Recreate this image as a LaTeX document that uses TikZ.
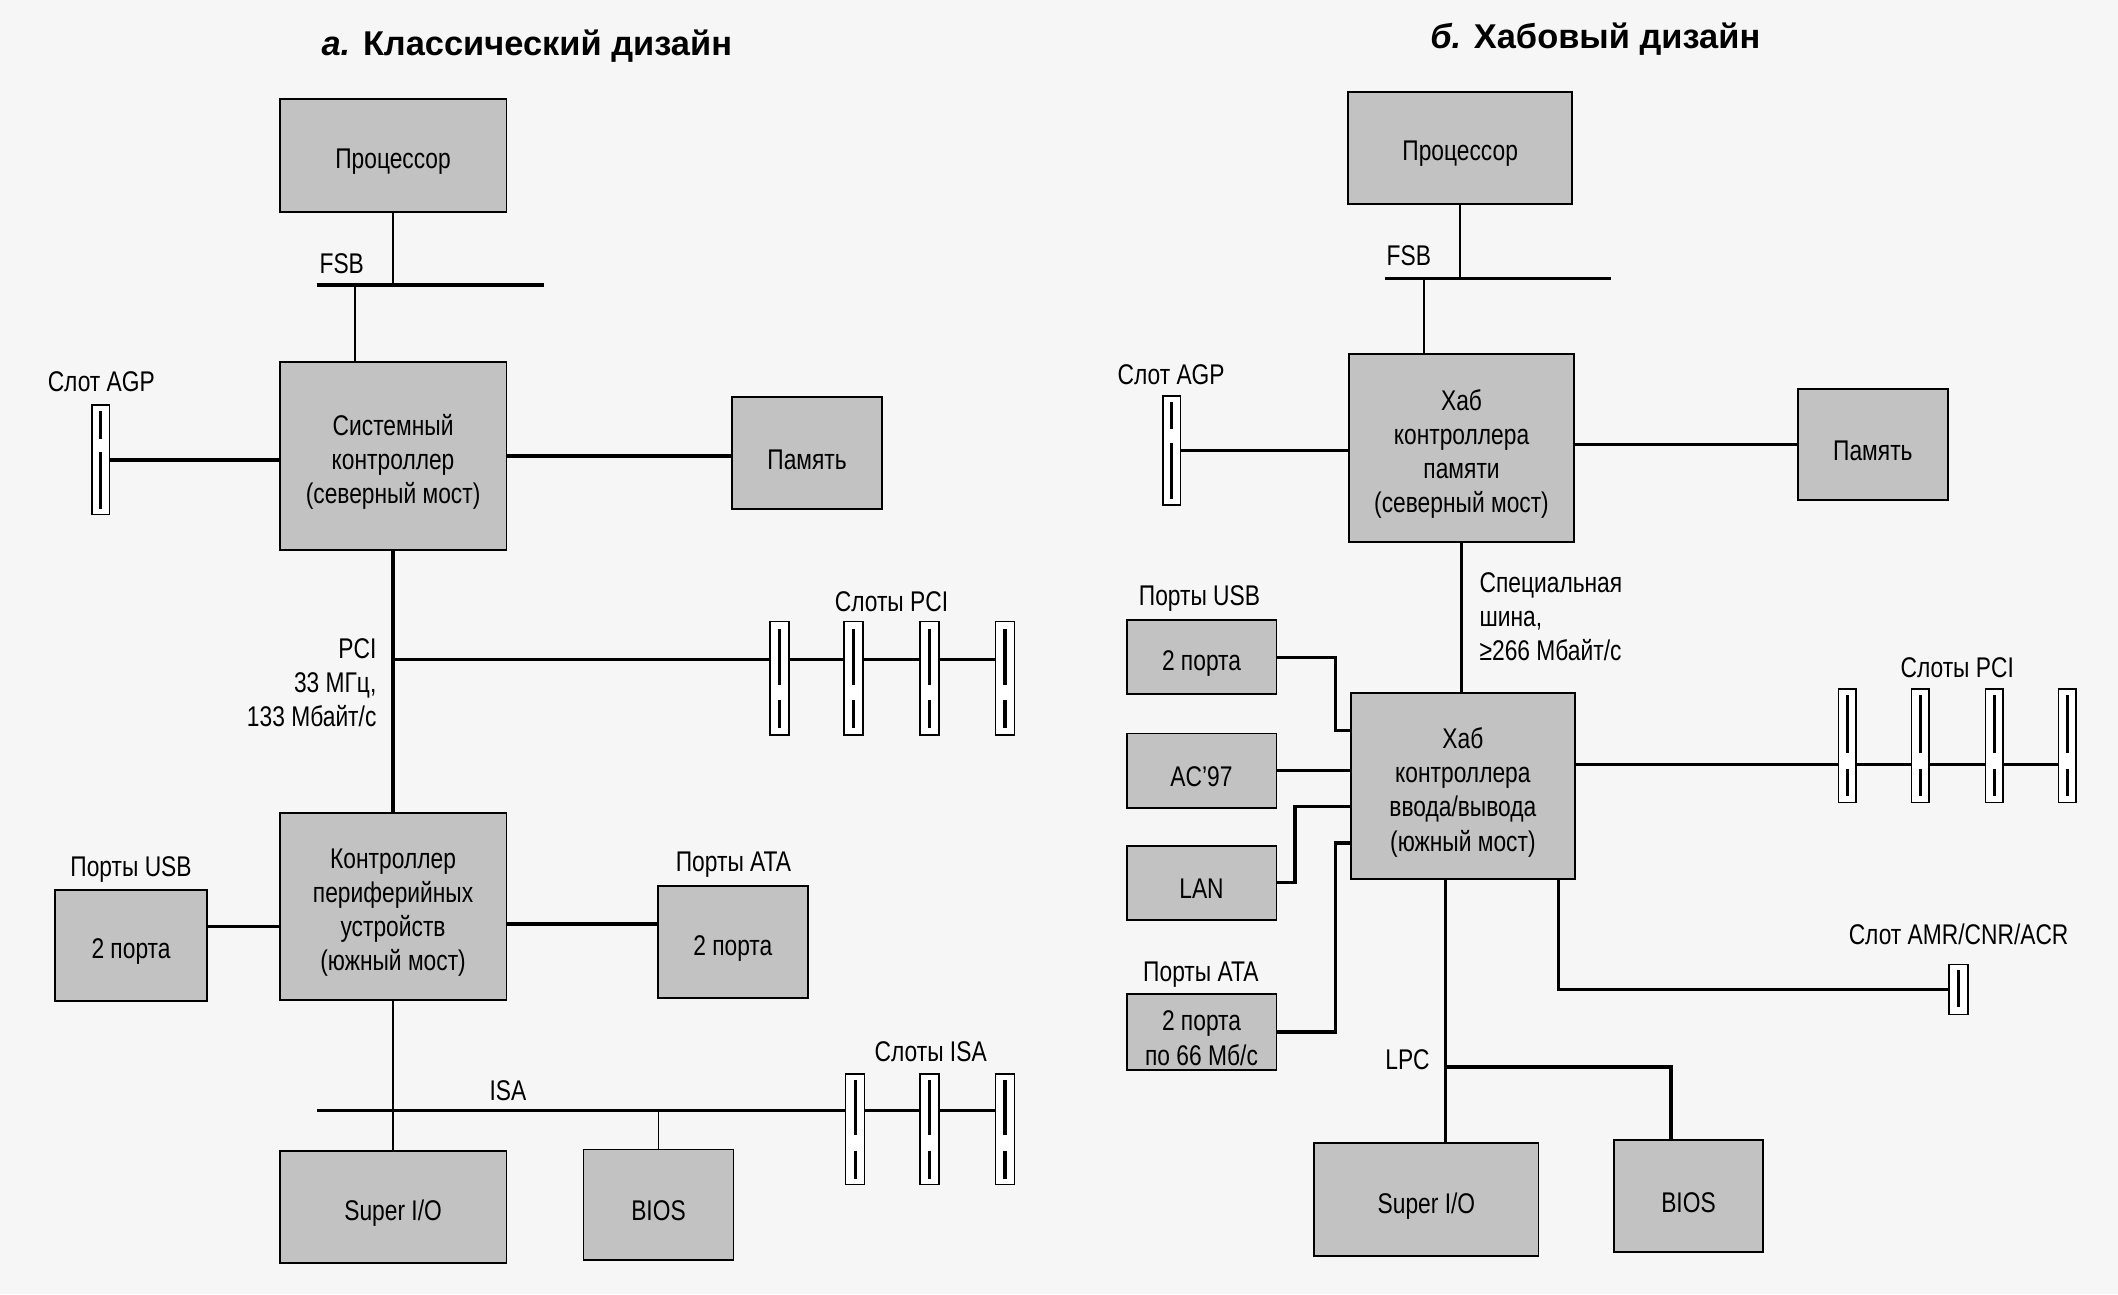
\documentclass[tikz,border=0pt]{standalone}
\usepackage{fontspec}
\setmainfont{Liberation Sans}[FakeStretch=0.8]
\newfontfamily\titlefont{Liberation Sans}
\usetikzlibrary{calc}
\definecolor{boxgray}{gray}{0.76}
\definecolor{paper}{gray}{0.965}
\newcommand\lblfont{\fontsize{12}{14.4}\selectfont}
\tikzset{
  box/.style={draw=black, line width=0.8pt, fill=boxgray, inner sep=0pt},
  slotbox/.style={draw=black, line width=0.7pt, fill=white, inner sep=0pt},
  bar/.style={line width=1.3pt},
  thickline/.style={line width=1.4pt},
  thinline/.style={line width=0.75pt},
  lbl/.style={align=center, font=\lblfont, inner sep=0pt, yshift=-0.8pt},
  boxtext/.style={align=center, font=\lblfont, inner sep=0pt, yshift=-2.6pt},
  ttl/.style={font=\titlefont\fontsize{14.5}{17}\selectfont\bfseries, inner sep=0pt},
}
% box: name, xl, yt, xr, yb, text
\newcommand\mybox[6]{%
  \node[box, minimum width={(#4-#2)*0.02cm}, minimum height={(#5-#3)*0.02cm}]
    (#1) at ({(#2+#4)/2},{(#3+#5)/2}) {};
  \node[boxtext] (#1-text) at (#1.center) {#6};
}
% slot: name, xl, yt, xr, yb, bar1 start, bar1 end, bar2 start, bar2 end
\newcommand\myslot[9]{%
  \node[slotbox, minimum width={(#4-#2)*0.02cm}, minimum height={(#5-#3)*0.02cm}]
    (#1) at ({(#2+#4)/2},{(#3+#5)/2}) {};
  \draw[bar] ($(#1.north)!#6!(#1.south)$) -- ($(#1.north)!#7!(#1.south)$);
  \draw[bar] ($(#1.north)!#8!(#1.south)$) -- ($(#1.north)!#9!(#1.south)$);
}
\begin{document}
\begin{tikzpicture}[x=0.02cm, y=-0.02cm]
\fill[paper] (0,0) rectangle (1568,958);
\useasboundingbox (0,0) rectangle (1568,958);

% ---------------- titles
\node[ttl] (t1) at (390,34) {\itshape а.\upshape{} Классический дизайн};
\node[ttl] (t2) at (1181,29) {\itshape б.\upshape{} Хабовый дизайн};

% ================= LEFT: classic design
\mybox{cpu1}{207}{73}{375}{157}{Процессор}
\node[lbl] (fsb1) at (253,194) {FSB};
\coordinate (fsbL1) at (235,211);
\coordinate (fsbR1) at (403,211);
\draw[thickline] (fsbL1) -- (fsbR1);
\draw[thinline] (cpu1.south) -- (cpu1.south |- fsbL1);
\mybox{nb1}{207}{268}{375}{407}{Системный\\контроллер\\(северный мост)}
\coordinate (fsbj1) at (263,211);
\draw[thinline] (fsbj1) -- (fsbj1 |- nb1.north);

\myslot{agp1}{68}{300}{81}{381}{0.06}{0.31}{0.43}{0.94}
\node[lbl] (agpl1) at (75,281) {Слот AGP};
\draw[thickline] (agp1.east) -- (agp1.east -| nb1.west);

\mybox{mem1}{542}{294}{653}{377}{Память}
\draw[thickline] (nb1.east) -- (nb1.east -| mem1.west);

\mybox{sb1}{207}{602}{375}{740}{Контроллер\\периферийных\\устройств\\(южный мост)}
\draw[thickline] (nb1.south) -- (sb1.north);

% PCI bus
\myslot{pl1}{570}{460}{584}{544}{0.07}{0.56}{0.69}{0.93}
\myslot{pl2}{625}{460}{639}{544}{0.07}{0.56}{0.69}{0.93}
\myslot{pl3}{681}{460}{695}{544}{0.07}{0.56}{0.69}{0.93}
\myslot{pl4}{737}{460}{751}{544}{0.07}{0.56}{0.69}{0.93}
\coordinate (pcij1) at (291,488);
\draw[thickline] (pcij1) -- (pcij1 -| pl1.west);
\draw[thickline] (pl1.east |- pcij1) -- (pl2.west |- pcij1);
\draw[thickline] (pl2.east |- pcij1) -- (pl3.west |- pcij1);
\draw[thickline] (pl3.east |- pcij1) -- (pl4.west |- pcij1);
\node[lbl] (pcis1) at (660,444) {Слоты PCI};
\node[lbl, align=right, anchor=east] (pcil1) at (279,504) {PCI\\33 МГц,\\133 Мбайт/с};

% USB / ATA
\mybox{usb1}{41}{659}{153}{741}{2 порта}
\node[lbl] (usbl1) at (97,642) {Порты USB};
\draw[thickline] (usb1.east |- 0,686) -- (sb1.west |- 0,686);
\mybox{ata1}{487}{656}{598}{739}{2 порта}
\node[lbl] (atal1) at (543,639) {Порты ATA};
\draw[thickline] (sb1.east |- 0,684) -- (ata1.west |- 0,684);

% ISA
\mybox{sio1}{207}{852}{375}{935}{Super I/O}
\mybox{bios1}{432}{851}{543}{933}{BIOS}
\draw[thinline] (sb1.south) -- (sio1.north);
\myslot{is1}{626}{795}{640}{877}{0.06}{0.55}{0.69}{0.94}
\myslot{is2}{681}{795}{695}{877}{0.06}{0.55}{0.69}{0.94}
\myslot{is3}{737}{795}{751}{877}{0.06}{0.55}{0.69}{0.94}
\coordinate (isaL) at (235,822);
\draw[thickline] (isaL) -- (isaL -| is1.west);
\draw[thickline] (is1.east |- isaL) -- (is2.west |- isaL);
\draw[thickline] (is2.east |- isaL) -- (is3.west |- isaL);
\draw[thinline] (bios1.north |- isaL) -- (bios1.north);
\node[lbl] (isal1) at (376,806) {ISA};
\node[lbl] (isas1) at (689,777) {Слоты ISA};

% ================= RIGHT: hub design
\mybox{cpu2}{998}{68}{1164}{151}{Процессор}
\node[lbl] (fsb2) at (1043,188) {FSB};
\coordinate (fsbL2) at (1025,206);
\coordinate (fsbR2) at (1193,206);
\draw[thickline] (fsbL2) -- (fsbR2);
\draw[thinline] (cpu2.south) -- (cpu2.south |- fsbL2);
\mybox{hub1}{999}{262}{1165}{401}{Хаб\\контроллера\\памяти\\(северный мост)}
\coordinate (fsbj2) at (1054,206);
\draw[thinline] (fsbj2) -- (fsbj2 |- hub1.north);

\myslot{agp2}{861}{293}{874}{374}{0.06}{0.31}{0.43}{0.94}
\node[lbl] (agpl2) at (867,276) {Слот AGP};
\draw[thickline] (agp2.east) -- (agp2.east -| hub1.west);

\mybox{mem2}{1331}{288}{1442}{370}{Память}
\draw[thickline] (hub1.east |- mem2.west) -- (mem2.west);

\mybox{hub2}{1000}{513}{1166}{651}{Хаб\\контроллера\\ввода/вывода\\(южный мост)}
\draw[thickline] (hub1.south) -- (hub1.south |- hub2.north);
\node[lbl, align=left, anchor=west] (spl) at (1095,455) {Специальная\\шина,\\≥266 Мбайт/с};

\mybox{usb2}{834}{459}{945}{514}{2 порта}
\node[lbl] (usbl2) at (888,442) {Порты USB};
\draw[thickline] (usb2.east) -- ++(43,0) |- (hub2.west |- 0,541);
\mybox{ac97}{834}{543}{945}{598}{AC’97}
\draw[thickline] (ac97.east) -- (ac97.east -| hub2.west);
\mybox{lan}{834}{626}{945}{681}{LAN}
\draw[thickline] (lan.east) -- ++(13,0) |- (hub2.west |- 0,597);
\mybox{ata2}{834}{736}{945}{792}{2 порта\\по 66 Мб/с}
\node[lbl] (atal2) at (889,720) {Порты ATA};
\draw[thickline] (ata2.east) -- ++(43,0) |- (hub2.west |- 0,624);

% PCI right
\myslot{pr1}{1361}{510}{1374}{594}{0.06}{0.56}{0.70}{0.94}
\myslot{pr2}{1415}{510}{1428}{594}{0.06}{0.56}{0.70}{0.94}
\myslot{pr3}{1470}{510}{1483}{594}{0.06}{0.56}{0.70}{0.94}
\myslot{pr4}{1524}{510}{1537}{594}{0.06}{0.56}{0.70}{0.94}
\coordinate (pcij2) at (1166,566);
\draw[thickline] (hub2.east |- pcij2) -- (pr1.west |- pcij2);
\draw[thickline] (pr1.east |- pcij2) -- (pr2.west |- pcij2);
\draw[thickline] (pr2.east |- pcij2) -- (pr3.west |- pcij2);
\draw[thickline] (pr3.east |- pcij2) -- (pr4.west |- pcij2);
\node[lbl] (pcis2) at (1449,493) {Слоты PCI};

% AMR slot
\node[slotbox, minimum width=0.28cm, minimum height=0.74cm] (amr) at (1450,732.5) {};
\draw[bar] ($(amr.north)!0.12!(amr.south)$) -- ($(amr.north)!0.84!(amr.south)$);
\node[lbl] (amrl) at (1450,690) {Слот AMR/CNR/ACR};
\draw[thickline] (hub2.south -| 1154,0) |- (amr.west);

% LPC
\mybox{sio2}{973}{846}{1139}{930}{Super I/O}
\mybox{bios2}{1195}{844}{1305}{927}{BIOS}
\draw[thickline] (hub2.south -| 1070,0) -- (sio2.north -| 1070,0);
\coordinate (lpcj) at (1070,790);
\draw[thickline] (lpcj) -| (bios2.north -| 1237,0);
\node[lbl] (lpcl) at (1042,783) {LPC};
\end{tikzpicture}
\end{document}
